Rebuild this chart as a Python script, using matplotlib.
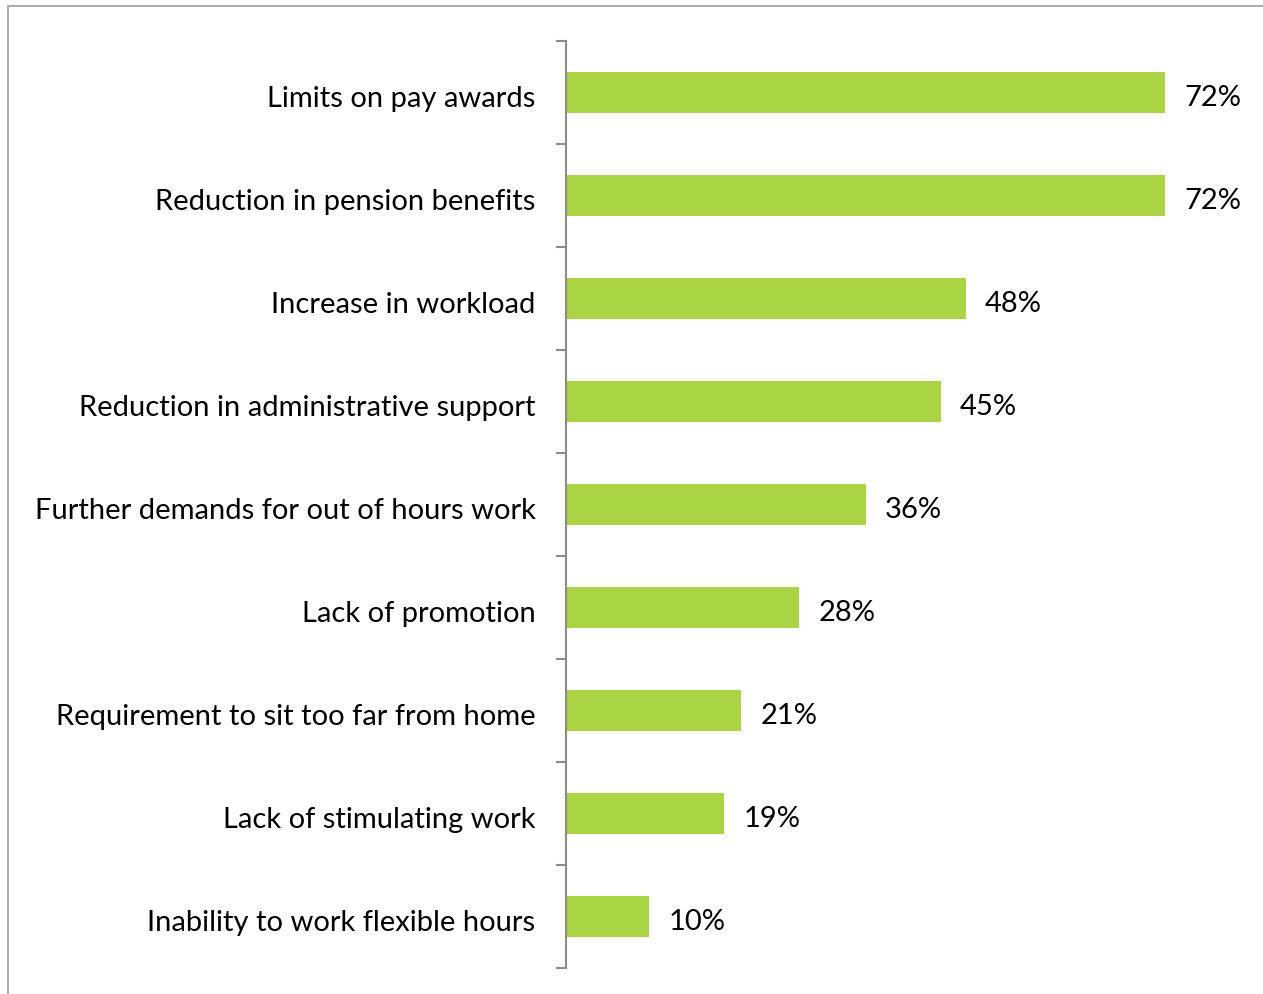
import matplotlib.pyplot as plt
import matplotlib.patches as mpatches
import matplotlib.transforms as mtransforms
import numpy as np

factors = [
    "Limits on pay awards",
    "Reduction in pension benefits",
    "Increase in workload",
    "Reduction in administrative support",
    "Further demands for out of hours work",
    "Lack of promotion",
    "Requirement to sit too far from home",
    "Lack of stimulating work",
    "Inability to work flexible hours",
]
share = [72, 72, 48, 45, 36, 28, 21, 19, 10]

W, H = 1263, 995
fig = plt.figure(figsize=(W / 100, H / 100), dpi=100)
plt.rcParams['font.family'] = ['Lato', 'DejaVu Sans']

# chart area frame (runs off the top/right/bottom of the image)
frame = mpatches.Rectangle((8 / W, -0.1), 1.1, 1 - 7 / H + 0.1,
                           transform=fig.transFigure, fill=False,
                           edgecolor='#a6a6a6', linewidth=1.3)
fig.patches.append(frame)

ax = fig.add_axes([566 / W, 1 - 969 / H, (1232 - 566) / W, (969 - 42) / H])

y = np.arange(len(factors))
bars = ax.barh(y, share, height=0.4, color='#aad444')
ax.set_ylim(len(factors) - 0.5, -0.5)
ax.set_xlim(0, 80)

vals = ax.bar_label(bars, labels=[f"{v}%" for v in share], padding=14,
                    fontsize=21, color='black')
for t in vals:
    t.xyann = (14, -3)   # a touch lower than the bar centre

for s in ['top', 'right', 'bottom']:
    ax.spines[s].set_visible(False)
ax.spines['left'].set_color('#8c8c8c')
ax.spines['left'].set_linewidth(1.5)
ax.set_xticks([])

ax.set_yticks(y)
ax.set_yticklabels(factors, fontsize=21)
ax.set_yticks(np.arange(len(factors) + 1) - 0.5, minor=True)
ax.tick_params(axis='y', which='major', length=0, pad=22)
ax.tick_params(axis='y', which='minor', length=7, width=1.5, color='#8c8c8c')
shift = mtransforms.ScaledTranslation(0, -3 / 100, fig.dpi_scale_trans)
for t in ax.get_yticklabels():
    t.set_transform(t.get_transform() + shift)

fig.savefig('out.png', dpi=100)
